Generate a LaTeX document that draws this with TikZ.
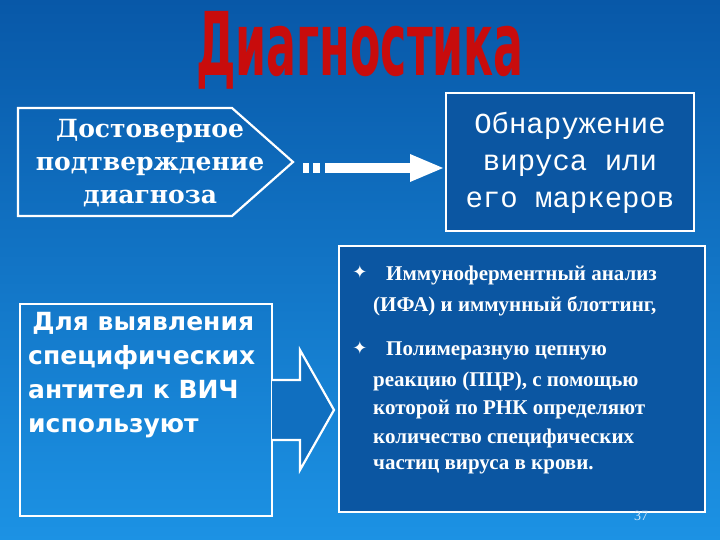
\documentclass[tikz,border=0pt]{standalone}
\usepackage{fontspec}
\setmainfont{Liberation Serif}
\newfontfamily\monof{Liberation Mono}
\newfontfamily\dserif{DejaVu Serif}
\newfontfamily\dsans{DejaVu Sans}
\newfontfamily\condf{DejaVu Sans Condensed}
\begin{document}
\begin{tikzpicture}[x=1pt,y=-1pt,
  frame/.style={draw=white,line width=2.2pt},
  wtext/.style={text=white,align=center,inner sep=0pt},
  btext/.style={text=white,anchor=west,inner sep=0pt,font=\fontsize{21}{24}\selectfont\bfseries}]
\definecolor{bgtop}{HTML}{0858A8}
\definecolor{bgbot}{HTML}{1C92E4}
\definecolor{boxfill}{HTML}{0B56A2}
\definecolor{tred}{HTML}{C80C0C}
\useasboundingbox (0,0) rectangle (720,540);
\shade[top color=bgtop,bottom color=bgbot] (0,0) rectangle (720,540);
% title
\node[inner sep=0pt,text=tred] (title) at (360,50) {\scalebox{1.12}[2.0]{\condf\bfseries\fontsize{44}{44}\selectfont Диагностика}};
% top-left pentagon
\draw[frame] (18,108) -- (232,108) -- (293,162) -- (232,216) -- (18,216) -- cycle;
\node[wtext,font=\dserif\bfseries\fontsize{25}{33}\selectfont] (tl) at (150,163) {Достоверное\\подтверждение\\диагноза};
% top-right box
\draw[frame,fill=boxfill] (446,93) rectangle (694,231);
\node[wtext,font=\monof\fontsize{29}{37}\selectfont] (tr) at (570,163) {Обнаружение\\вируса или\\его маркеров};
% connector
\fill[white] (303,163) rectangle (309,173);
\fill[white] (313,163) rectangle (320,173);
\fill[white] (325,163) rectangle (410,173);
\fill[white] (410,154) -- (443,168) -- (410,182) -- cycle;
% bottom-left box
\draw[frame] (20,304) rectangle (272,516);
\node[text=white,anchor=north west,align=left,inner sep=0pt,font=\dsans\bfseries\fontsize{25}{34}\selectfont] (bl) at (28,312) {\,Для выявления\\специфических\\антител к ВИЧ\\используют};
% hollow arrow
\draw[draw=white,line width=2.2pt,fill=bgtop!60!bgbot] (272,380) -- (300,380) -- (300,350) -- (334,410) -- (300,470) -- (300,440) -- (272,440);
% bottom-right box
\draw[frame,fill=boxfill] (339,246) rectangle (705,512);
\node[text=white,font=\dsans\fontsize{18}{18}\selectfont] at (360,272) {✦};
\node[text=white,font=\dsans\fontsize{18}{18}\selectfont] at (360,348) {✦};
\node[btext] at (386,275) {Иммуноферментный анализ};
\node[btext] at (373,306) {(ИФА) и иммунный блоттинг,};
\node[btext] at (386,351) {Полимеразную цепную};
\node[btext] at (373,381) {реакцию (ПЦР), с помощью};
\node[btext] at (373,410) {которой по РНК определяют};
\node[btext] at (373,438) {количество специфических};
\node[btext] at (373,467) {частиц вируса в крови.};
\node[text=white!80!bgbot,font=\fontsize{14}{14}\selectfont] at (641,516) {37};
\end{tikzpicture}
\end{document}
